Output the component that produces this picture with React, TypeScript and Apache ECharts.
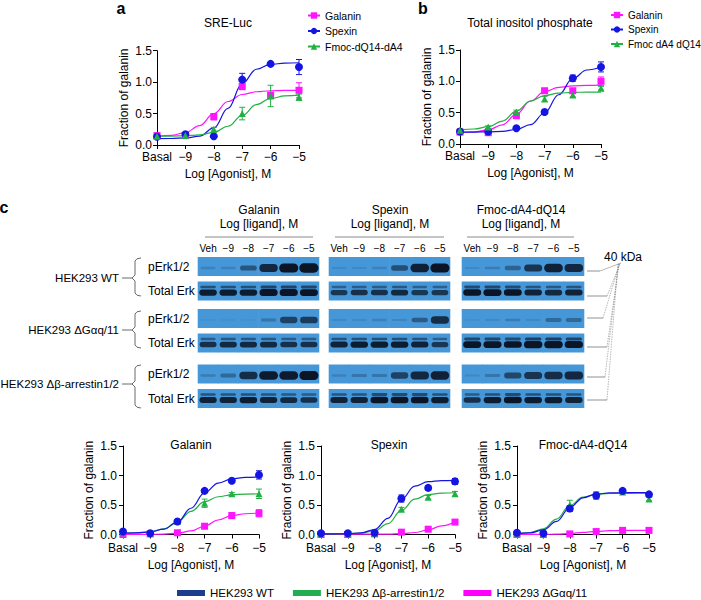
import React, { useEffect, useRef } from "react";
import * as echarts from "echarts";

const FONT = "'Liberation Sans', Arial, Helvetica, sans-serif";
const MAGENTA = "#ff14ff";
const BLUE = "#1515e3";
const GREEN = "#22b043";

// x levels: -10 stands for "Basal"
const X_LEVELS = [-10, -9, -8, -7, -6, -5];
const CURVE_X = [-10, -9.5, -9, -8.5, -8, -7.5, -7, -6.5, -6, -5.5, -5];

// Panel a: SRE-Luc
const A_GAL = [0.15, 0.15, 0.45, 0.93, 0.79, 0.87];
const A_GAL_ERR = [0.02, 0.01, 0.05, 0.05, 0.05, 0.12];
const A_GAL_FIT = [0.137, 0.153, 0.197, 0.308, 0.5, 0.692, 0.803, 0.847, 0.863, 0.868, 0.869];
const A_SPX = [0.13, 0.17, 0.14, 1.04, 1.29, 1.24];
const A_SPX_ERR = [0.02, 0.02, 0.02, 0.1, 0.02, 0.12];
const A_SPX_FIT = [0.101, 0.103, 0.113, 0.14, 0.272, 0.582, 0.977, 1.205, 1.282, 1.303, 1.308];
const A_FMOC = [0.14, 0.15, 0.25, 0.5, 0.78, 0.76];
const A_FMOC_ERR = [0.02, 0.02, 0.03, 0.1, 0.17, 0.05];
const A_FMOC_FIT = [0.141, 0.142, 0.147, 0.16, 0.2, 0.298, 0.47, 0.642, 0.74, 0.78, 0.793];

// Panel b: Total inositol phosphate
const B_GAL = [0.19, 0.18, 0.45, 0.85, 0.85, 1.0];
const B_GAL_ERR = [0.02, 0.02, 0.03, 0.03, 0.03, 0.07];
const B_GAL_FIT = [0.185, 0.195, 0.225, 0.306, 0.474, 0.686, 0.836, 0.904, 0.928, 0.936, 0.939];
const B_SPX = [0.2, 0.2, 0.25, 0.51, 1.05, 1.23];
const B_SPX_ERR = [0.02, 0.02, 0.02, 0.03, 0.05, 0.08];
const B_SPX_FIT = [0.19, 0.191, 0.194, 0.203, 0.231, 0.31, 0.495, 0.786, 1.045, 1.181, 1.233];
const B_FMOC = [0.22, 0.27, 0.51, 0.72, 0.78, 0.89];
const B_FMOC_ERR = [0.02, 0.02, 0.03, 0.04, 0.03, 0.03];
const B_FMOC_FIT = [0.226, 0.239, 0.276, 0.366, 0.525, 0.684, 0.774, 0.811, 0.824, 0.828, 0.829];

// Panel c quantification
const C_GAL_WT = [0.05, 0.02, 0.22, 0.74, 0.91, 1.01];
const C_GAL_WT_ERR = [0.01, 0.01, 0.02, 0.03, 0.02, 0.07];
const C_GAL_WT_FIT = [0.022, 0.028, 0.044, 0.091, 0.21, 0.445, 0.706, 0.872, 0.943, 0.968, 0.976];
const C_GAL_ARR = [0.03, 0.02, 0.22, 0.53, 0.69, 0.69];
const C_GAL_ARR_ERR = [0.01, 0.01, 0.02, 0.07, 0.02, 0.08];
const C_GAL_ARR_FIT = [0.023, 0.028, 0.045, 0.095, 0.211, 0.393, 0.556, 0.64, 0.673, 0.685, 0.688];
const C_GAL_GQ = [0.0, 0.01, 0.03, 0.14, 0.32, 0.36];
const C_GAL_GQ_ERR = [0.01, 0.01, 0.01, 0.02, 0.05, 0.06];
const C_GAL_GQ_FIT = [0.0, 0.001, 0.002, 0.007, 0.022, 0.061, 0.143, 0.246, 0.319, 0.352, 0.364];

const C_SPX_WT = [0.02, 0.02, 0.03, 0.61, 0.79, 0.9];
const C_SPX_WT_ERR = [0.01, 0.01, 0.01, 0.06, 0.04, 0.05];
const C_SPX_WT_FIT = [0.01, 0.011, 0.014, 0.029, 0.085, 0.273, 0.597, 0.82, 0.895, 0.914, 0.918];
const C_SPX_ARR = [0.01, 0.01, 0.02, 0.43, 0.63, 0.69];
const C_SPX_ARR_ERR = [0.01, 0.01, 0.01, 0.03, 0.03, 0.04];
const C_SPX_ARR_FIT = [0.01, 0.011, 0.014, 0.025, 0.064, 0.184, 0.408, 0.598, 0.678, 0.702, 0.708];
const C_SPX_GQ = [0.0, 0.0, 0.01, 0.04, 0.09, 0.21];
const C_SPX_GQ_ERR = [0.01, 0.01, 0.01, 0.02, 0.02, 0.02];
const C_SPX_GQ_FIT = [0.005, 0.005, 0.005, 0.005, 0.006, 0.008, 0.015, 0.034, 0.078, 0.147, 0.209];

const C_FMOC_WT = [0.03, 0.02, 0.44, 0.66, 0.74, 0.68];
const C_FMOC_WT_ERR = [0.01, 0.01, 0.05, 0.06, 0.03, 0.02];
const C_FMOC_WT_FIT = [0.015, 0.029, 0.079, 0.223, 0.455, 0.622, 0.686, 0.704, 0.708, 0.709, 0.71];
const C_FMOC_ARR = [0.02, 0.02, 0.5, 0.67, 0.72, 0.6];
const C_FMOC_ARR_ERR = [0.01, 0.01, 0.08, 0.03, 0.02, 0.03];
const C_FMOC_ARR_FIT = [0.016, 0.034, 0.097, 0.262, 0.49, 0.632, 0.681, 0.695, 0.698, 0.699, 0.7];
const C_FMOC_GQ = [0.0, 0.0, 0.01, 0.05, 0.07, 0.07];
const C_FMOC_GQ_ERR = [0.01, 0.01, 0.01, 0.01, 0.01, 0.01];
const C_FMOC_GQ_FIT = [0.0, 0.001, 0.002, 0.006, 0.017, 0.035, 0.053, 0.064, 0.068, 0.069, 0.07];

// Western blots: band intensity (0..1), rows = WT pErk, WT Total, Gq pErk, Gq Total, Arr pErk, Arr Total
const LANES = ["Veh", "\u22129", "\u22128", "\u22127", "\u22126", "\u22125"];
const ROW_NAMES = ["pErk1/2", "Total Erk"];
const CELL_LINES = ["HEK293 WT", "HEK293 \u0394G\u03b1q/11", "HEK293 \u0394\u03b2-arrestin1/2"];
const BLOT_GALANIN = [
  [0.1, 0.1, 0.45, 0.8, 0.95, 1.0],
  [0.75, 0.75, 0.75, 0.9, 0.9, 0.85],
  [0.0, 0.0, 0.0, 0.2, 0.6, 0.65],
  [0.6, 0.65, 0.65, 0.65, 0.6, 0.6],
  [0.15, 0.3, 0.75, 0.9, 0.9, 0.95],
  [0.7, 0.7, 0.75, 0.7, 0.65, 0.6],
];
const BLOT_SPEXIN = [
  [0.05, 0.05, 0.1, 0.5, 0.85, 0.95],
  [0.55, 0.6, 0.6, 0.65, 0.55, 0.55],
  [0.05, 0.05, 0.1, 0.08, 0.4, 0.75],
  [0.7, 0.75, 0.75, 0.75, 0.7, 0.55],
  [0.1, 0.2, 0.2, 0.6, 0.8, 0.85],
  [0.7, 0.7, 0.8, 0.8, 0.8, 0.75],
];
const BLOT_FMOC = [
  [0.05, 0.15, 0.35, 0.7, 0.85, 0.8],
  [0.8, 0.85, 0.8, 0.7, 0.65, 0.7],
  [0.02, 0.05, 0.15, 0.05, 0.3, 0.3],
  [0.85, 0.85, 0.8, 0.95, 0.95, 0.9],
  [0.05, 0.2, 0.55, 0.7, 0.75, 0.8],
  [0.6, 0.75, 0.8, 0.75, 0.75, 0.7],
];

const BLOT_BG = "#4697d8";
const BAND = "#0b1526";

type SetDef = { name: string; color: string; symbol: string; size: number; values: number[]; errors: number[]; fit: number[] };

function buildOption() {
  const grids: any[] = [];
  const xAxes: any[] = [];
  const yAxes: any[] = [];
  const series: any[] = [];

  const axisText = (fs: number) => ({ fontSize: fs, color: "#000", fontFamily: FONT });

  function addCurvePanel(rect: any, sets: SetDef[], fs: number) {
    const gi = grids.length;
    grids.push({ left: rect.left, top: rect.top, width: rect.width, height: rect.height });
    xAxes.push({
      gridIndex: gi, type: "value", min: -10, max: -5, interval: 1,
      name: "Log [Agonist], M", nameLocation: "middle", nameGap: rect.xGap, nameTextStyle: axisText(fs),
      axisLine: { show: true, lineStyle: { color: "#000", width: 1 } },
      axisTick: { show: true, length: 4, lineStyle: { color: "#000", width: 1 } },
      axisLabel: { ...axisText(fs), margin: rect.xMargin, formatter: (v: number) => (v === -10 ? "Basal" : "\u2212" + Math.abs(v)) },
      splitLine: { show: false },
    });
    yAxes.push({
      gridIndex: gi, type: "value", min: 0, max: 1.5, interval: 0.5,
      name: "Fraction of galanin", nameLocation: "middle", nameGap: rect.yGap, nameTextStyle: axisText(fs),
      axisLine: { show: true, lineStyle: { color: "#000", width: 1 } },
      axisTick: { show: true, length: 4, lineStyle: { color: "#000", width: 1 } },
      axisLabel: { ...axisText(fs), margin: rect.yMargin, formatter: (v: number) => v.toFixed(1) },
      splitLine: { show: false },
    });
    sets.forEach((s) => {
      series.push({
        type: "line", name: s.name, xAxisIndex: gi, yAxisIndex: gi, z: 2,
        data: CURVE_X.map((x, i) => [x, s.fit[i]]),
        smooth: 0.4, smoothMonotone: "x", showSymbol: false, symbol: s.symbol, symbolSize: s.size,
        lineStyle: { color: s.color, width: 1.2 }, itemStyle: { color: s.color },
        silent: true,
      });
    });
    sets.forEach((s) => {
      series.push({
        type: "custom", name: s.name, xAxisIndex: gi, yAxisIndex: gi, z: 3,
        data: X_LEVELS.map((x, i) => [x, s.values[i] - s.errors[i], s.values[i] + s.errors[i]]),
        encode: { x: 0, y: [1, 2] },
        renderItem: (params: any, api: any) => {
          const x = api.value(0);
          const p1 = api.coord([x, api.value(1)]);
          const p2 = api.coord([x, api.value(2)]);
          const w = 3;
          const st = { stroke: s.color, lineWidth: 1 };
          return {
            type: "group",
            children: [
              { type: "line", shape: { x1: p1[0], y1: p1[1], x2: p2[0], y2: p2[1] }, style: st },
              { type: "line", shape: { x1: p1[0] - w, y1: p1[1], x2: p1[0] + w, y2: p1[1] }, style: st },
              { type: "line", shape: { x1: p2[0] - w, y1: p2[1], x2: p2[0] + w, y2: p2[1] }, style: st },
            ],
          };
        },
        silent: true,
      });
    });
    sets.forEach((s) => {
      series.push({
        type: "scatter", name: s.name, xAxisIndex: gi, yAxisIndex: gi, z: 4,
        data: X_LEVELS.map((x, i) => [x, s.values[i]]),
        symbol: s.symbol, symbolSize: s.size, itemStyle: { color: s.color, opacity: 1 },
        silent: true,
      });
    });
  }

  const topRectA = { left: 157, top: 50.7, width: 142, height: 94.3, xGap: 23, yGap: 27, xMargin: 6, yMargin: 5 };
  const topRectB = { left: 460, top: 50, width: 141, height: 94, xGap: 23, yGap: 27, xMargin: 6, yMargin: 5 };
  addCurvePanel(topRectA, [
    { name: "Galanin", color: MAGENTA, symbol: "rect", size: 7, values: A_GAL, errors: A_GAL_ERR, fit: A_GAL_FIT },
    { name: "Spexin", color: BLUE, symbol: "circle", size: 8, values: A_SPX, errors: A_SPX_ERR, fit: A_SPX_FIT },
    { name: "Fmoc-dQ14-dA4", color: GREEN, symbol: "triangle", size: 7, values: A_FMOC, errors: A_FMOC_ERR, fit: A_FMOC_FIT },
  ], 12);
  addCurvePanel(topRectB, [
    { name: "Galanin", color: MAGENTA, symbol: "rect", size: 7, values: B_GAL, errors: B_GAL_ERR, fit: B_GAL_FIT },
    { name: "Spexin", color: BLUE, symbol: "circle", size: 8, values: B_SPX, errors: B_SPX_ERR, fit: B_SPX_FIT },
    { name: "Fmoc dA4 dQ14", color: GREEN, symbol: "triangle", size: 7, values: B_FMOC, errors: B_FMOC_ERR, fit: B_FMOC_FIT },
  ], 12);

  const WT = "HEK293 WT";
  const ARR = "HEK293 \u0394\u03b2-arrestin1/2";
  const GQ = "HEK293 \u0394G\u03b1q/11";
  const bottom = (left: number, width: number) => ({ left, top: 446, width, height: 88.5, xGap: 24, yGap: 28, xMargin: 7, yMargin: 6 });
  addCurvePanel(bottom(123, 136), [
    { name: GQ, color: MAGENTA, symbol: "rect", size: 7, values: C_GAL_GQ, errors: C_GAL_GQ_ERR, fit: C_GAL_GQ_FIT },
    { name: ARR, color: GREEN, symbol: "triangle", size: 7, values: C_GAL_ARR, errors: C_GAL_ARR_ERR, fit: C_GAL_ARR_FIT },
    { name: WT, color: BLUE, symbol: "circle", size: 8, values: C_GAL_WT, errors: C_GAL_WT_ERR, fit: C_GAL_WT_FIT },
  ], 12);
  addCurvePanel(bottom(321, 134), [
    { name: GQ, color: MAGENTA, symbol: "rect", size: 7, values: C_SPX_GQ, errors: C_SPX_GQ_ERR, fit: C_SPX_GQ_FIT },
    { name: ARR, color: GREEN, symbol: "triangle", size: 7, values: C_SPX_ARR, errors: C_SPX_ARR_ERR, fit: C_SPX_ARR_FIT },
    { name: WT, color: BLUE, symbol: "circle", size: 8, values: C_SPX_WT, errors: C_SPX_WT_ERR, fit: C_SPX_WT_FIT },
  ], 12);
  addCurvePanel(bottom(517, 132), [
    { name: GQ, color: MAGENTA, symbol: "rect", size: 7, values: C_FMOC_GQ, errors: C_FMOC_GQ_ERR, fit: C_FMOC_GQ_FIT },
    { name: ARR, color: GREEN, symbol: "triangle", size: 7, values: C_FMOC_ARR, errors: C_FMOC_ARR_ERR, fit: C_FMOC_ARR_FIT },
    { name: WT, color: BLUE, symbol: "circle", size: 8, values: C_FMOC_WT, errors: C_FMOC_WT_ERR, fit: C_FMOC_WT_FIT },
  ], 12);

  // Blots
  const ligands = [
    { data: BLOT_GALANIN, left: 198, width: 121 },
    { data: BLOT_SPEXIN, left: 329, width: 121 },
    { data: BLOT_FMOC, left: 462, width: 122 },
  ];
  const cellTops = [254.25, 306.25, 361.75];
  ligands.forEach((lig, li) => {
    cellTops.forEach((top, ci) => {
      const gi = grids.length;
      grids.push({ left: lig.left, top, width: lig.width, height: 49 });
      xAxes.push({
        gridIndex: gi, type: "category", data: LANES, position: "top",
        axisLine: { show: false }, axisTick: { show: false }, splitLine: { show: false },
        axisLabel: { show: ci === 0, fontSize: 10, color: "#000", fontFamily: FONT, margin: 1, interval: 0 },
      });
      yAxes.push({
        gridIndex: gi, type: "category", data: ROW_NAMES, inverse: true,
        axisLine: { show: false }, axisTick: { show: false }, splitLine: { show: false },
        axisLabel: { show: li === 0, fontSize: 12, color: "#000", fontFamily: FONT, margin: 50, align: "left" },
      });
      const cells: any[] = [];
      [0, 1].forEach((r) => {
        lig.data[ci * 2 + r].forEach((v, lane) => cells.push([lane, r, v]));
      });
      series.push({
        type: "custom", xAxisIndex: gi, yAxisIndex: gi, data: cells, silent: true,
        encode: { x: 0, y: 1 },
        renderItem: (params: any, api: any) => {
          const lane = api.value(0);
          const row = api.value(1);
          const v = api.value(2);
          const c = api.coord([lane, row]);
          const sz = api.size([1, 1]);
          const W = sz[0];
          const H = 19;
          const children: any[] = [
            { type: "rect", shape: { x: c[0] - W / 2 - 0.3, y: c[1] - H / 2, width: W + 0.6, height: H }, style: { fill: BLOT_BG } },
          ];
          if (row === 0) {
            const bh = 1.5 + 8 * v;
            const bw = W * (0.72 + 0.24 * v);
            children.push({
              type: "rect",
              shape: { x: c[0] - bw / 2, y: c[1] + 1.5 - bh / 2, width: bw, height: bh, r: bh / 2 },
              style: { fill: BAND, opacity: Math.min(1, 0.06 + v) },
            });
          } else {
            const bh = 2.5 + 5 * v;
            const bw = W * (0.72 + 0.2 * v);
            children.push({
              type: "rect",
              shape: { x: c[0] - bw / 2, y: c[1] + 1.5 - bh / 2, width: bw, height: bh, r: bh / 2 },
              style: { fill: BAND, opacity: Math.min(1, 0.2 + v) },
            });
            const uh = 1.2 + 2 * v;
            children.push({
              type: "rect",
              shape: { x: c[0] - bw / 2 + 1, y: c[1] - 4 - uh / 2, width: bw - 2, height: uh, r: uh / 2 },
              style: { fill: BAND, opacity: 0.1 + 0.6 * v },
            });
          }
          return { type: "group", children };
        },
      });
    });
  });

  // Graphic annotations
  const T = (text: string, x: number, y: number, size: number, align = "center", weight = "normal") => ({
    type: "text", x, y, silent: true,
    style: {
      text, fill: "#000", font: `${weight} ${size}px ${FONT}`,
      align, verticalAlign: "middle", textAlign: align, textVerticalAlign: "middle",
    },
  });
  const lineEl = (x1: number, y1: number, x2: number, y2: number, stroke = "#777", w = 0.8, dash?: number[]) => ({
    type: "line", silent: true, shape: { x1, y1, x2, y2 }, style: { stroke, lineWidth: w, lineDash: dash },
  });
  const graphic: any[] = [
    T("a", 121, 8, 16, "center", "bold"),
    T("b", 423, 8, 16, "center", "bold"),
    T("c", 4, 207, 16, "center", "bold"),
    T("SRE-Luc", 228, 23, 12),
    T("Total inositol phosphate", 530, 23, 12),
    T("Galanin", 191, 445, 12),
    T("Spexin", 389, 445, 12),
    T("Fmoc-dA4-dQ14", 583, 445, 12),
    T("40 kDa", 623, 257, 12),
  ];
  const headers = [
    { name: "Galanin", cx: 259, x1: 205, x2: 313 },
    { name: "Spexin", cx: 390, x1: 335, x2: 444 },
    { name: "Fmoc-dA4-dQ14", cx: 521, x1: 467, x2: 574 },
  ];
  headers.forEach((h) => {
    graphic.push(T(h.name, h.cx, 210, 12));
    graphic.push(T("Log [ligand], M", h.cx, 224, 12));
    graphic.push(lineEl(h.x1, 237, h.x2, 237, "#8a8a8a", 1));
  });
  const braces = [
    { top: 258, bot: 296, mid: 278 },
    { top: 311, bot: 348, mid: 330 },
    { top: 365, bot: 408, mid: 384 },
  ];
  braces.forEach((b, i) => {
    graphic.push(T(CELL_LINES[i], 119, b.mid, 11.5, "right"));
    graphic.push(lineEl(122, b.mid, 132, b.mid, "#444", 0.8));
    graphic.push({
      type: "polyline", silent: true,
      shape: {
        points: [
          [141, b.top], [137, b.top + 0.8], [135, b.top + 3], [135, b.mid - 3], [132, b.mid],
          [135, b.mid + 3], [135, b.bot - 3], [137, b.bot - 0.8], [141, b.bot],
        ],
      },
      style: { stroke: "#444", lineWidth: 0.8, fill: null },
    });
  });
  const leaders = [
    { y: 271, x: 600 }, { y: 296, x: 607 }, { y: 318, x: 603 },
    { y: 347, x: 607 }, { y: 377, x: 605 }, { y: 400, x: 607 },
  ];
  leaders.forEach((l, i) => {
    graphic.push(lineEl(587, l.y, l.x, l.y, "#777", 0.8));
    graphic.push(lineEl(l.x, l.y, 621 - i * 0.6, 263, "#888", 0.6, i === 0 ? undefined : [1.5, 1]));
  });

  const legendA = { fontSize: 10.5, color: "#000", fontFamily: FONT };
  const legendB = { fontSize: 10, color: "#000", fontFamily: FONT };
  const legendC = { fontSize: 11.5, color: "#000", fontFamily: FONT };
  const legend = [
    {
      orient: "vertical", left: 307, top: 10, padding: 0, itemWidth: 12, itemHeight: 8, itemGap: 4.5, selectedMode: false,
      textStyle: legendA, data: ["Galanin", "Spexin", "Fmoc-dQ14-dA4"],
    },
    {
      orient: "vertical", left: 610, top: 10, padding: 0, itemWidth: 12, itemHeight: 8, itemGap: 4.5, selectedMode: false,
      textStyle: legendB, data: ["Galanin", "Spexin", "Fmoc dA4 dQ14"],
    },
    {
      orient: "horizontal", left: 177, top: 587, padding: 0, itemWidth: 28, itemHeight: 6, itemGap: 19, icon: "rect",
      selectedMode: false, textStyle: legendC,
      data: [
        { name: WT, itemStyle: { color: "#1c3c8e" } },
        { name: ARR, itemStyle: { color: "#22ad50" } },
        { name: GQ, itemStyle: { color: "#ff00ff" } },
      ],
    },
  ];

  return {
    animation: false,
    backgroundColor: "#fff",
    textStyle: { fontFamily: FONT },
    grid: grids,
    xAxis: xAxes,
    yAxis: yAxes,
    series,
    legend,
    graphic,
  };
}

export default function App() {
  const ref = useRef<HTMLDivElement>(null);
  useEffect(() => {
    document.body.style.margin = "0";
    const chart = echarts.init(ref.current as HTMLDivElement, null, { renderer: "svg" });
    chart.setOption(buildOption() as any);
    return () => chart.dispose();
  }, []);
  return <div ref={ref} style={{ width: 701, height: 600 }} />;
}
